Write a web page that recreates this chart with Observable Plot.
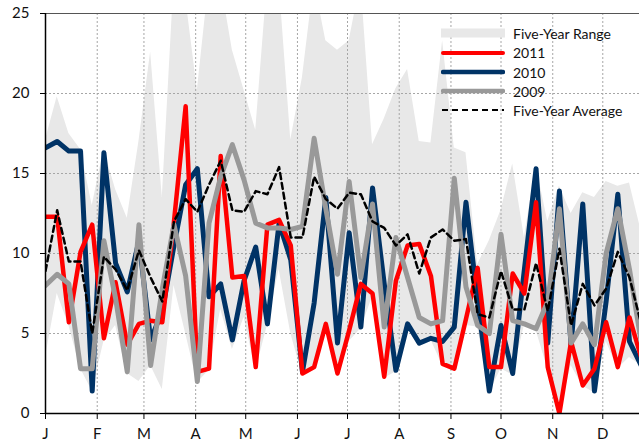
<!DOCTYPE html>
<html><head><meta charset="utf-8">
<script src="https://cdn.jsdelivr.net/npm/d3@7"></script>
<script src="https://cdn.jsdelivr.net/npm/@observablehq/plot@0.6"></script>
<style>
body{margin:0;background:#fff;}
#wrap{position:relative;width:639px;height:447px;font-family:Lato,"Open Sans",sans-serif;}
#legend{position:absolute;left:0;top:0;width:639px;height:140px;pointer-events:none;}
.row{position:absolute;left:441px;height:20px;display:flex;align-items:center;font-size:14px;color:#111;white-space:nowrap;}
.row svg{margin-right:8px;}
</style></head><body>
<div id="wrap"><div id="chart"></div><div id="legend"></div></div>
<script>
const week = [1,2,3,4,5,6,7,8,9,10,11,12,13,14,15,16,17,18,19,20,21,22,23,24,25,26,27,28,29,30,31,32,33,34,35,36,37,38,39,40,41,42,43,44,45,46,47,48,49,50,51,52];
const monthStart = [0,31,59,90,120,151,181,212,243,273,304,334];
const monthLabels = ["J","F","M","A","M","J","J","A","S","O","N","D"];
const y2011 = [12.3,12.3,5.7,10.1,11.8,4.7,8.2,4.3,5.6,5.8,5.7,12.0,19.2,2.6,2.8,16.1,8.5,8.6,2.9,11.8,12.1,10.5,2.5,2.9,5.6,2.5,5.2,8.1,7.5,2.3,8.3,10.5,10.6,8.6,3.1,2.8,5.9,9.1,2.9,2.9,8.75,7.5,13.2,2.9,0.0,4.5,1.75,2.8,5.7,2.9,6.0,3.5];
const y2010 = [16.6,17.0,16.4,16.4,1.4,16.3,9.4,7.6,10.8,4.6,6.4,10.5,14.3,15.3,7.3,8.1,4.6,8.3,10.4,5.6,11.9,9.6,2.6,6.9,13.5,4.4,11.3,5.4,14.1,8.1,2.7,5.6,4.4,4.7,4.5,5.4,13.2,7.0,1.4,5.5,2.5,9.0,15.3,4.4,13.9,4.3,13.1,1.4,7.0,13.7,4.5,3.0];
const y2009 = [8.0,8.7,8.1,2.8,2.8,10.8,7.2,2.6,11.8,3.0,7.8,11.8,8.6,2.0,11.9,14.8,16.8,14.6,11.9,11.6,11.6,11.5,11.7,17.2,12.8,8.7,14.5,8.5,13.1,5.4,11.0,8.5,6.0,5.6,5.8,14.7,7.9,5.5,5.0,11.2,5.8,5.6,5.3,7.0,12.8,4.4,5.6,4.3,10.0,12.8,9.0,4.5];
const avg5 = [8.9,12.7,9.5,9.5,5.0,9.8,9.0,7.7,10.2,8.5,7.0,12.0,13.4,12.6,14.3,15.8,12.7,12.6,13.9,13.7,15.4,11.0,11.0,14.8,13.4,12.8,13.8,13.7,12.0,11.6,10.5,11.2,8.75,11.0,11.5,10.8,10.9,6.2,6.0,8.9,6.5,6.5,9.4,6.4,10.3,5.5,8.1,6.75,7.8,10.1,8.5,5.6];
const rangeMax = [17.1,19.8,17.5,16.5,13.0,16.5,14.0,12.2,17.0,22.6,13.5,27,26,20.2,27,27,22.7,20.2,17.7,27,27,17.1,21,27,23.3,22.7,23.3,27,16.8,18.4,20.3,21.5,17.0,16.9,23.3,16.6,16.3,9.3,10.8,12.7,15.6,11.0,15.5,12.0,14.2,12.5,13.8,13.5,14.5,14.2,14.4,11.4];
const rangeMin = [3.5,7.5,5.5,2.8,1.4,4.5,5.5,2.5,2.0,3.0,1.5,8.0,5.0,1.9,2.7,6.5,4.0,6.0,2.7,5.5,9.0,5.0,2.4,2.8,5.5,2.4,4.5,5.3,7.3,2.2,2.6,5.5,4.4,4.6,3.0,2.7,5.5,5.4,1.3,2.8,2.4,5.5,5.2,2.8,0,3.0,1.7,1.3,4.5,2.8,3.5,3.0];

const rows = week.map((w, i) => ({
  day: (w - 1) * 7,
  r2011: y2011[i], r2010: y2010[i], r2009: y2009[i], avg: avg5[i],
  lo: rangeMin[i], hi: rangeMax[i]
}));

const chart = Plot.plot({
  width: 639, height: 447,
  marginTop: 13, marginRight: 0, marginBottom: 34, marginLeft: 45,
  style: {fontFamily: "Lato, 'Open Sans', sans-serif", fontSize: "15px", color: "#111", background: "#fff", overflow: "visible"},
  x: {domain: [0, 356], label: null},
  y: {domain: [0, 25], label: null},
  marks: [
    Plot.areaY(rows, {x: "day", y1: "lo", y2: "hi", fill: "#e8e8e8", clip: true}),
    Plot.gridX(monthStart, {stroke: "#a6a6a6", strokeOpacity: 1, strokeDasharray: "2,2", strokeWidth: 1}),
    Plot.gridY([5, 10, 15, 20], {stroke: "#a6a6a6", strokeOpacity: 1, strokeDasharray: "2,2", strokeWidth: 1}),
    Plot.ruleY([25], {stroke: "#555", strokeWidth: 1.2}),
    Plot.line(rows, {x: "day", y: "r2010", stroke: "#003366", strokeWidth: 5, strokeLinejoin: "round", clip: true}),
    Plot.line(rows, {x: "day", y: "r2011", stroke: "#ff0000", strokeWidth: 4.5, strokeLinejoin: "round", clip: true}),
    Plot.line(rows, {x: "day", y: "r2009", stroke: "#999999", strokeWidth: 5, strokeLinejoin: "round", clip: true}),
    Plot.line(rows, {x: "day", y: "avg", stroke: "#000", strokeWidth: 2.5, strokeDasharray: "6,4", clip: true}),
    Plot.axisX(monthStart, {tickFormat: d => monthLabels[monthStart.indexOf(d)], tickSize: 6, tickPadding: 9, fontSize: 15, stroke: "#000"}),
    Plot.axisY([0, 5, 10, 15, 20, 25], {tickSize: 5, tickPadding: 11, fontSize: 15, stroke: "#000"}),
    Plot.ruleX([0], {stroke: "#000", strokeWidth: 1.5}),
    Plot.ruleY([0], {stroke: "#000", strokeWidth: 1.5})
  ]
});
document.getElementById("chart").appendChild(chart);

const legendItems = [
  {label: "Five-Year Range", kind: "area", color: "#e8e8e8", cy: 33},
  {label: "2011", kind: "line", color: "#ff0000", w: 4, cy: 52.5},
  {label: "2010", kind: "line", color: "#003366", w: 4.5, cy: 72},
  {label: "2009", kind: "line", color: "#999999", w: 4.5, cy: 91},
  {label: "Five-Year Average", kind: "dash", color: "#000", w: 2.2, cy: 110}
];
const leg = document.getElementById("legend");
legendItems.forEach(it => {
  const row = document.createElement("div");
  row.className = "row";
  row.style.top = (it.cy - 10) + "px";
  let sw;
  if (it.kind === "area") sw = `<svg width="64" height="20"><rect x="0" y="5.5" width="64" height="9" fill="${it.color}"/></svg>`;
  else if (it.kind === "line") sw = `<svg width="64" height="20"><line x1="2" y1="10" x2="62" y2="10" stroke="${it.color}" stroke-width="${it.w}" stroke-linecap="round"/></svg>`;
  else sw = `<svg width="64" height="20"><line x1="1" y1="10" x2="63" y2="10" stroke="${it.color}" stroke-width="${it.w}" stroke-dasharray="6,4"/></svg>`;
  row.innerHTML = sw + `<span>${it.label}</span>`;
  leg.appendChild(row);
});
</script>
</body></html>
